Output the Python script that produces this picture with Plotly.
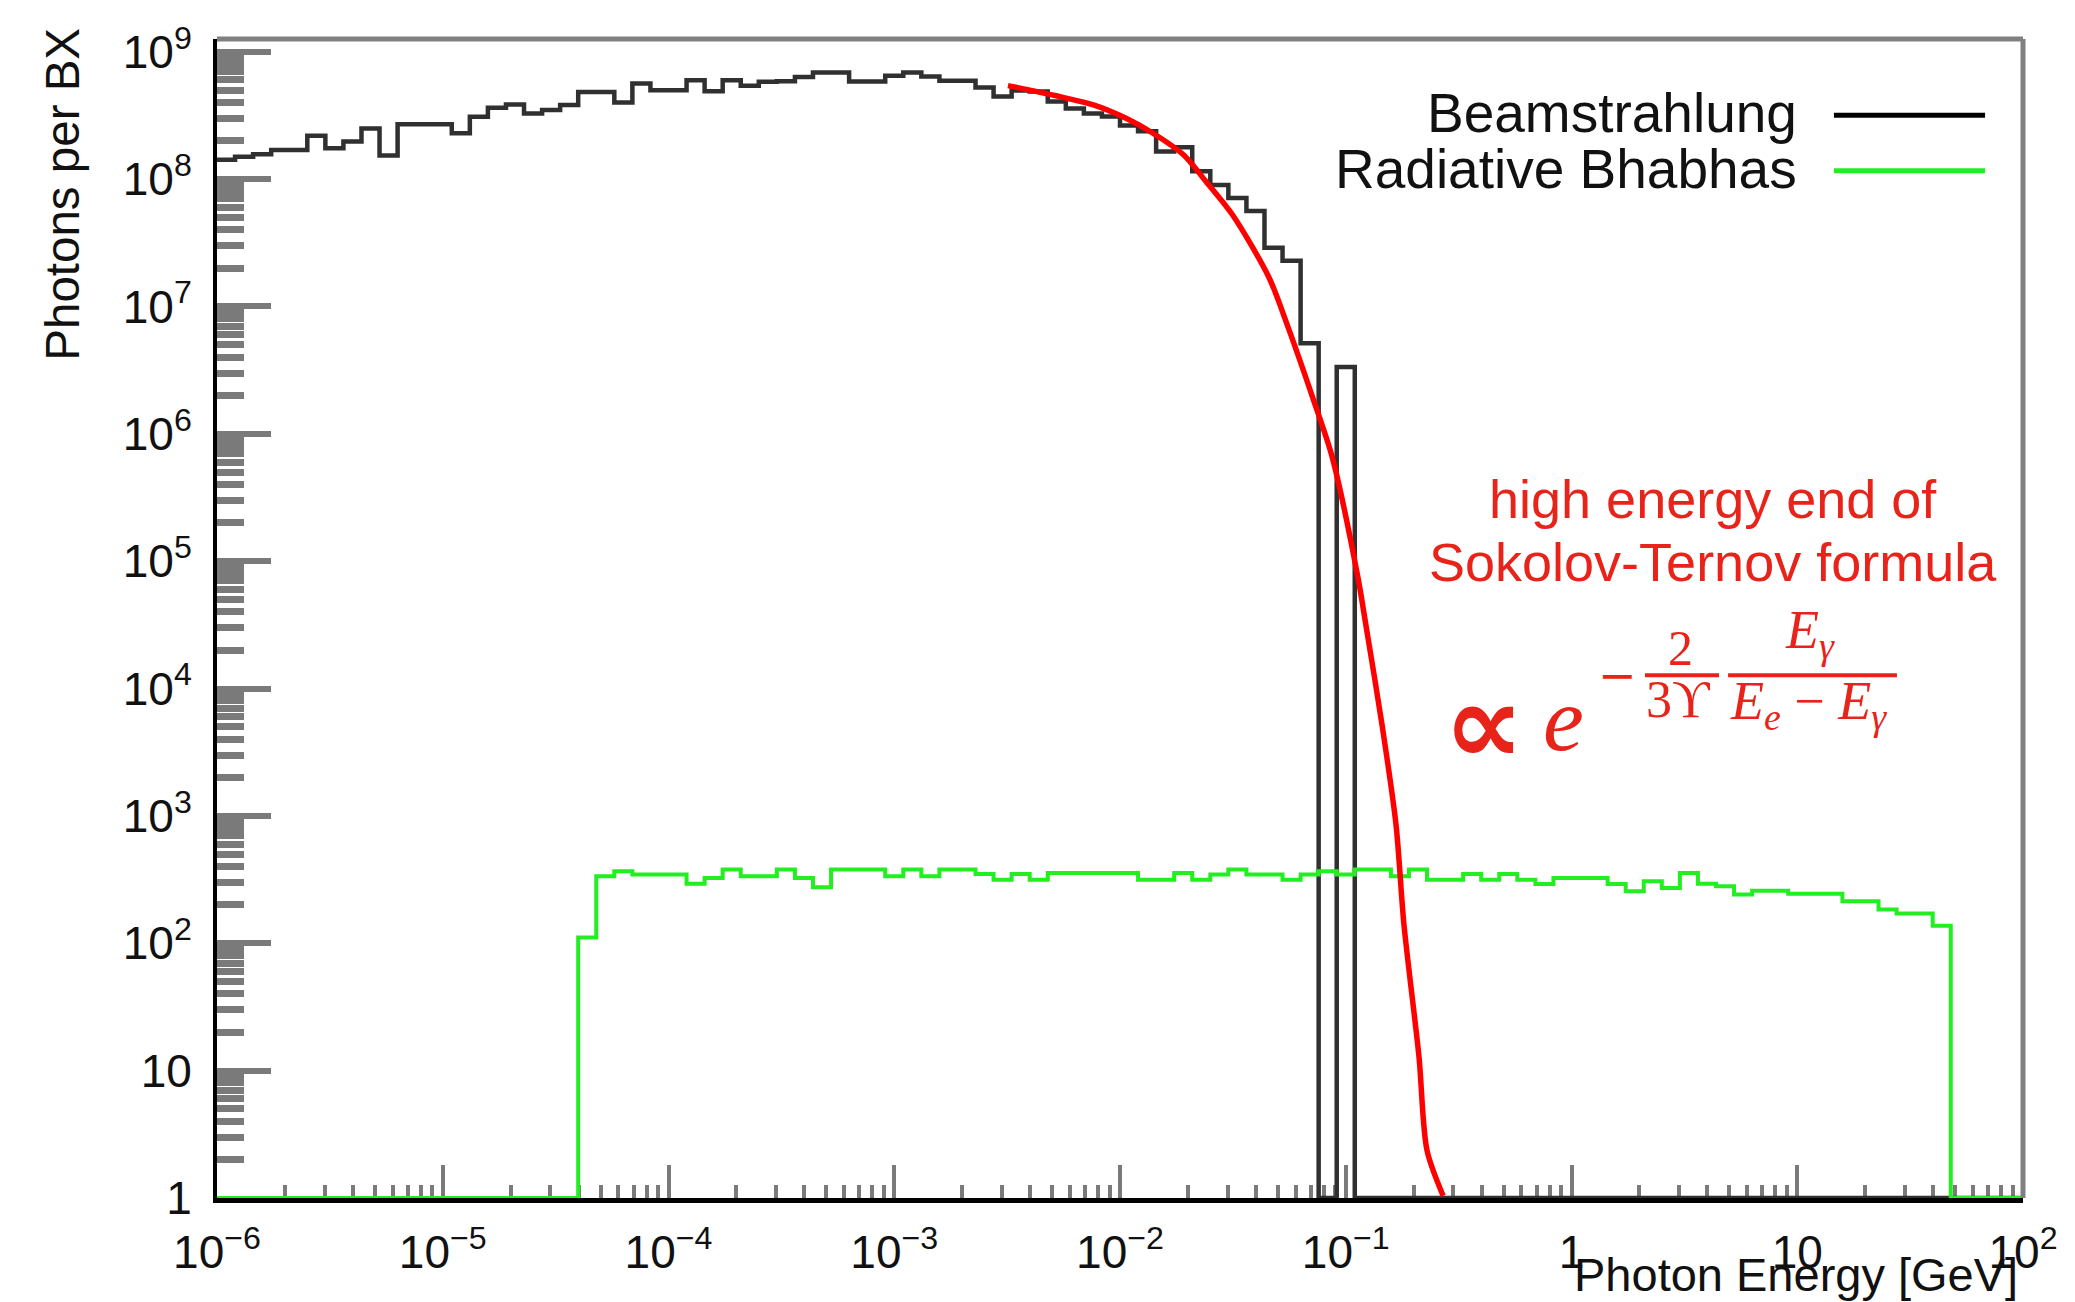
import numpy as np
import plotly.graph_objects as go

# ---------------- data ----------------
# Both histograms: 100 bins, uniform in log10(E), from 1e-6 GeV to 1e2 GeV
LOG_E_MIN, LOG_E_MAX, N_BINS = -6.0, 2.0, 100

# photons per bunch crossing, Beamstrahlung (bins 0..99, 0 = empty bin)
beamstrahlung = [
    1.42e8, 1.50e8, 1.57e8, 1.69e8, 1.69e8, 2.19e8, 1.75e8, 1.97e8, 2.50e8, 1.53e8,
    2.69e8, 2.69e8, 2.69e8, 2.29e8, 3.09e8, 3.63e8, 3.85e8, 3.28e8, 3.48e8, 3.81e8,
    4.84e8, 4.84e8, 4.00e8, 5.62e8, 4.99e8, 4.99e8, 5.97e8, 4.90e8, 5.97e8, 5.40e8,
    5.80e8, 5.86e8, 6.34e8, 6.86e8, 6.86e8, 5.83e8, 5.83e8, 6.49e8, 6.86e8, 6.38e8,
    5.93e8, 5.93e8, 5.24e8, 4.45e8, 4.96e8, 4.87e8, 4.06e8, 3.59e8, 3.28e8, 3.10e8,
    2.64e8, 2.37e8, 1.65e8, 1.78e8, 1.15e8, 8.97e7, 7.11e7, 5.62e7, 2.89e7, 2.29e7,
    5.14e6, 0, 3.34e6, 0, 0, 0, 0, 0, 0, 0,
    0, 0, 0, 0, 0, 0, 0, 0, 0, 0,
    0, 0, 0, 0, 0, 0, 0, 0, 0, 0,
    0, 0, 0, 0, 0, 0, 0, 0, 0, 0,
]

# photons per bunch crossing, Radiative Bhabhas (bins 0..99)
radiative_bhabhas = [
    0, 0, 0, 0, 0, 0, 0, 0, 0, 0,
    0, 0, 0, 0, 0, 0, 0, 0, 0, 0,
    111, 336, 367, 346, 346, 346, 293, 326, 379, 336,
    336, 379, 326, 275, 379, 379, 379, 336, 379, 336,
    379, 379, 350, 316, 350, 316, 357, 357, 357, 357,
    357, 316, 316, 357, 316, 346, 379, 346, 346, 316,
    346, 367, 346, 379, 379, 336, 379, 316, 316, 350,
    316, 350, 316, 292, 326, 326, 326, 292, 256, 307,
    272, 357, 293, 280, 241, 259, 259, 245, 245, 245,
    214, 214, 184, 171, 171, 137, 0, 0, 0, 0,
]

# high energy end of the Sokolov-Ternov spectrum
sokolov_E = [3.19e-3, 5.15e-3, 7.74e-3, 1.064e-2, 1.40e-2, 1.92e-2, 2.40e-2, 3.16e-2,
             4.57e-2, 5.50e-2, 7.20e-2, 8.70e-2, 0.113, 0.123, 0.145, 0.167, 0.181,
             0.211, 0.229, 0.270]
sokolov_N = [5.42e8, 4.53e8, 3.79e8, 3.00e8, 2.29e8, 1.54e8, 9.6e7, 5.2e7,
             1.69e7, 7.2e6, 1.84e6, 6.6e5, 7.6e4, 3.1e4, 5.1e3, 851, 141,
             12.9, 2.37, 1.04]

x_tickvals = [1e-6, 1e-5, 1e-4, 1e-3, 1e-2, 1e-1, 1, 10, 100]
x_ticktext = ["10<sup>\u22126</sup>", "10<sup>\u22125</sup>", "10<sup>\u22124</sup>",
              "10<sup>\u22123</sup>", "10<sup>\u22122</sup>", "10<sup>\u22121</sup>",
              "1", "10", "10<sup>2</sup>"]
y_tickvals = [1, 10, 1e2, 1e3, 1e4, 1e5, 1e6, 1e7, 1e8, 1e9]
y_ticktext = ["1", "10", "10<sup>2</sup>", "10<sup>3</sup>", "10<sup>4</sup>",
              "10<sup>5</sup>", "10<sup>6</sup>", "10<sup>7</sup>", "10<sup>8</sup>",
              "10<sup>9</sup>"]

series_names = ["Beamstrahlung", "Radiative Bhabhas"]

# ---------------- styling ----------------
BLACK_H = "#303030"
GREEN_H = "#22ee22"
RED_FIT = "#ff0000"
RED_TXT = "#e8231a"
TICK_C = "#7a7a7a"
FRAME_C = "#808080"
SANS = "Liberation Sans, Arial, Helvetica, sans-serif"
SERIF = "Liberation Serif, Times New Roman, serif"

edges = 10 ** np.linspace(LOG_E_MIN, LOG_E_MAX, N_BINS + 1)
Y_FLOOR = 1.0  # empty bins are drawn on the axis floor (as ROOT does on log scale)


def step_xy(values):
    yv = [v if v > 0 else Y_FLOOR for v in values]
    return list(edges), yv + [yv[-1]]


def log_minor(lo, hi):
    # minor tick positions 2..9 x 10^n of a log axis
    return [k * 10.0 ** n for n in range(lo, hi) for k in range(2, 10)]


fig = go.Figure()
bx, by = step_xy(beamstrahlung)
fig.add_trace(go.Scatter(x=bx, y=by, mode="lines", line=dict(color=BLACK_H, width=4.5, shape="hv"),
                         name=series_names[0], hoverinfo="skip"))
gx, gy = step_xy(radiative_bhabhas)
fig.add_trace(go.Scatter(x=gx, y=gy, mode="lines", line=dict(color=GREEN_H, width=4, shape="hv"),
                         name=series_names[1], hoverinfo="skip"))
fig.add_trace(go.Scatter(x=sokolov_E, y=sokolov_N, mode="lines",
                         line=dict(color=RED_FIT, width=5.5, shape="spline", smoothing=0.8),
                         name="Sokolov-Ternov", hoverinfo="skip"))

fig.update_layout(
    width=2075, height=1302,
    margin=dict(l=209, r=60, t=25, b=112, pad=0),
    paper_bgcolor="white", plot_bgcolor="white",
    showlegend=False,
    font=dict(family=SANS, size=46, color="#111111"),
)

fig.update_xaxes(
    type="log", range=[LOG_E_MIN, LOG_E_MAX], showgrid=False, zeroline=False,
    showline=True, linecolor="#000000", linewidth=5,
    ticks="inside", ticklen=33, tickwidth=4, tickcolor=TICK_C,
    tickmode="array", tickvals=x_tickvals, ticktext=x_ticktext,
    tickfont=dict(family=SANS, size=46, color="#111111"),
    ticklabelstandoff=10,
    minor=dict(ticks="inside", ticklen=13, tickwidth=4, tickcolor=TICK_C,
               tickmode="array", tickvals=log_minor(-6, 2), showgrid=False),
    layer="below traces",
)
fig.update_yaxes(
    type="log", range=[0, 9.1], showgrid=False, zeroline=False,
    showline=True, linecolor="#000000", linewidth=4,
    ticks="inside", ticklen=54, tickwidth=6, tickcolor=TICK_C,
    tickmode="array", tickvals=y_tickvals, ticktext=y_ticktext,
    tickfont=dict(family=SANS, size=46, color="#111111"),
    ticklabelstandoff=12,
    minor=dict(ticks="inside", ticklen=27, tickwidth=6.5, tickcolor=TICK_C,
               tickmode="array", tickvals=log_minor(0, 9), showgrid=False),
    layer="below traces",
)

# frame (top / right), ROOT style
fig.add_shape(type="line", xref="paper", yref="paper", x0=0, x1=1, y0=1, y1=1,
              line=dict(color=FRAME_C, width=5))
fig.add_shape(type="line", xref="paper", yref="paper", x0=1, x1=1, y0=0, y1=1,
              line=dict(color=FRAME_C, width=5))

# axis titles
fig.add_annotation(text="Photons per BX", xref="paper", yref="paper", x=-0.0853, y=0.8665,
                   textangle=-90, showarrow=False, xanchor="center", yanchor="middle",
                   font=dict(family=SANS, size=47.5, color="#111111"))
fig.add_annotation(text="Photon Energy [GeV]", xref="paper", yref="paper", x=0.9985, y=-0.066,
                   showarrow=False, xanchor="right", yanchor="middle",
                   font=dict(family=SANS, size=47, color="#111111"))

# legend (text left of line sample, as in ROOT TLegend)
leg_y = [0.9361, 0.8876]
leg_line_y = [0.9343, 0.8863]
for name, col, ty, ly in zip(series_names, [BLACK_H, GREEN_H], leg_y, leg_line_y):
    fig.add_annotation(text=name, xref="paper", yref="paper", x=0.876, y=ty, showarrow=False,
                       xanchor="right", yanchor="middle",
                       font=dict(family=SANS, size=55, color="#111111"))
    fig.add_shape(type="line", xref="paper", yref="paper", x0=0.8953, x1=0.979, y0=ly, y1=ly,
                  line=dict(color=("#000000" if col == BLACK_H else col), width=5))

# red annotation
fig.add_annotation(text="high energy end of", xref="paper", yref="paper", x=0.8284, y=0.6030,
                   showarrow=False, xanchor="center", yanchor="middle",
                   font=dict(family=SANS, size=54, color=RED_TXT))
fig.add_annotation(text="Sokolov-Ternov formula", xref="paper", yref="paper", x=0.8284, y=0.5490,
                   showarrow=False, xanchor="center", yanchor="middle",
                   font=dict(family=SANS, size=54, color=RED_TXT))

# formula  ∝ e^{ -(2/3ϒ) Eγ/(Ee - Eγ) }
fig.add_annotation(text="<b>\u221d</b>", xref="paper", yref="paper", x=0.7016, y=0.4086,
                   showarrow=False, xanchor="center", yanchor="middle",
                   font=dict(family="DejaVu Sans, sans-serif", size=112, color=RED_TXT))
fig.add_annotation(text="<i>e</i>", xref="paper", yref="paper", x=0.7453, y=0.4130,
                   showarrow=False, xanchor="center", yanchor="middle",
                   font=dict(family=SERIF, size=92, color=RED_TXT))
fig.add_annotation(text="\u2212", xref="paper", yref="paper", x=0.7757, y=0.4510,
                   showarrow=False, xanchor="center", yanchor="middle",
                   font=dict(family="DejaVu Sans, sans-serif", size=46, color=RED_TXT))
fig.add_annotation(text="2", xref="paper", yref="paper", x=0.8101, y=0.4745,
                   showarrow=False, xanchor="center", yanchor="middle",
                   font=dict(family=SERIF, size=50, color=RED_TXT))
fig.add_annotation(text="3\u03d2", xref="paper", yref="paper", x=0.8095, y=0.4300,
                   showarrow=False, xanchor="center", yanchor="middle",
                   font=dict(family="Liberation Serif, DejaVu Serif, serif", size=52, color=RED_TXT))
fig.add_annotation(text="<i>E</i><sub><i>\u03b3</i></sub>", xref="paper", yref="paper",
                   x=0.882, y=0.487, showarrow=False, xanchor="center", yanchor="middle",
                   font=dict(family=SERIF, size=54, color=RED_TXT))
fig.add_annotation(text="<i>E</i><sub><i>e</i></sub> \u2212 <i>E</i><sub><i>\u03b3</i></sub>",
                   xref="paper", yref="paper", x=0.8815, y=0.4255, showarrow=False,
                   xanchor="center", yanchor="middle",
                   font=dict(family=SERIF, size=54, color=RED_TXT))
for x0, x1 in [(0.7907, 0.8317), (0.8367, 0.9302)]:
    fig.add_shape(type="line", xref="paper", yref="paper", x0=x0, x1=x1, y0=0.4510, y1=0.4510,
                  line=dict(color=RED_TXT, width=4))

fig.write_html("out.html")
